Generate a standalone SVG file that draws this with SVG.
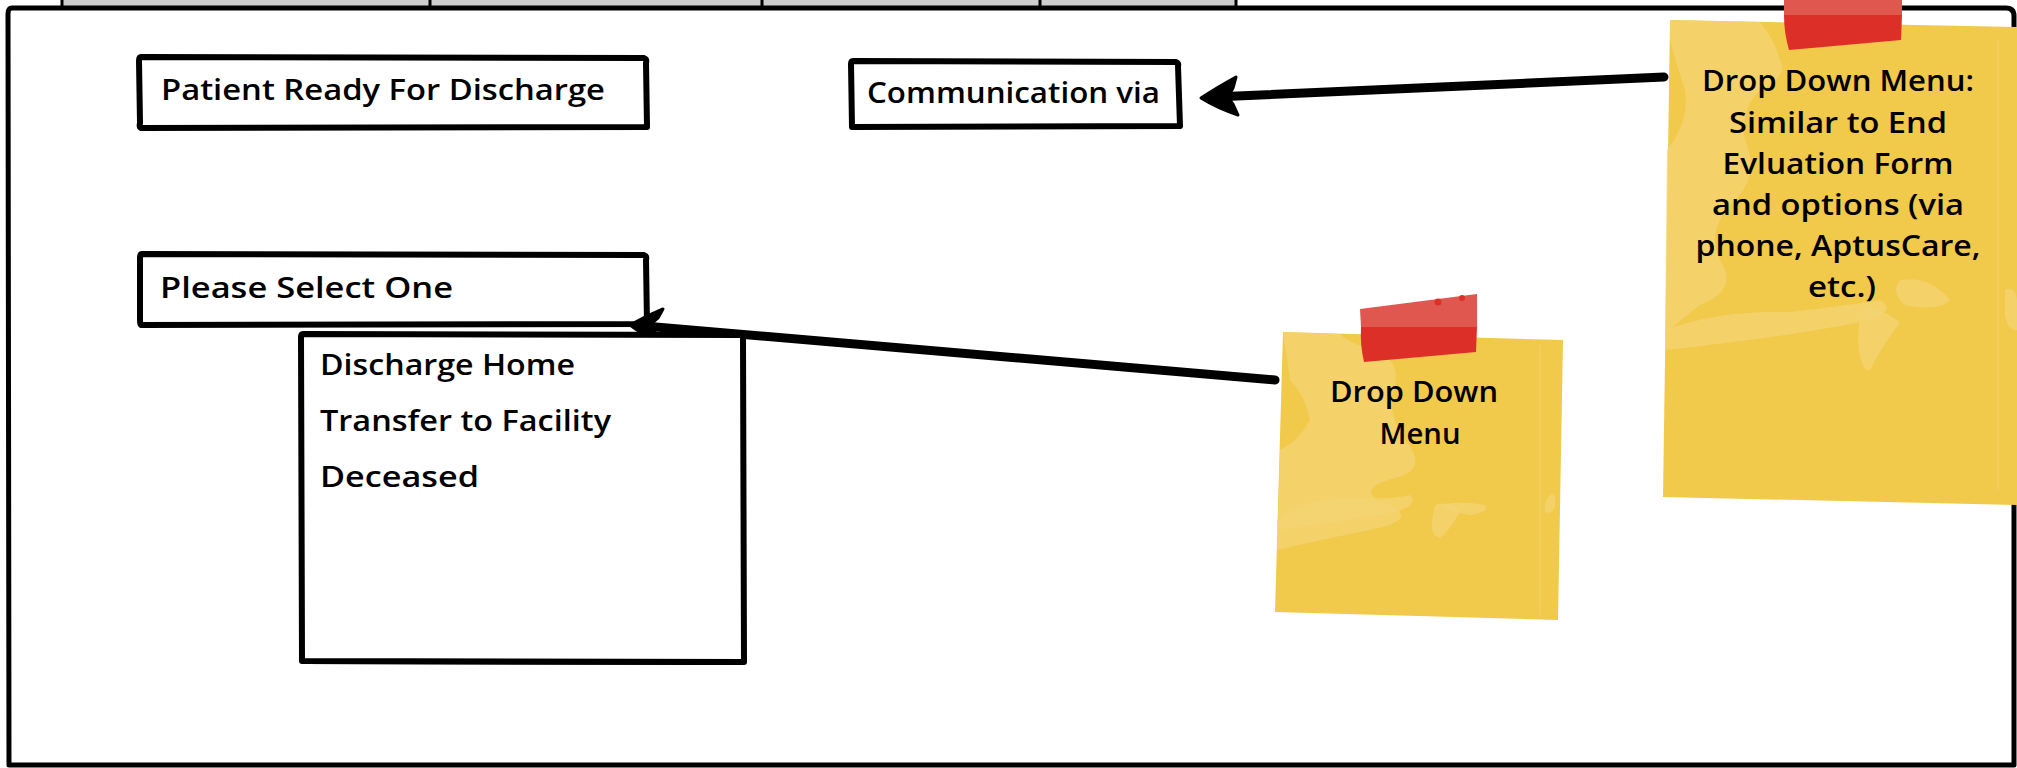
<svg xmlns="http://www.w3.org/2000/svg" width="2017" height="768" viewBox="0 0 2017 768">
  <defs>
    <style>
      .box { fill: #ffffff; stroke: #000000; stroke-width: 6; stroke-linejoin: round; stroke-linecap: round; }
      .frame { fill: #ffffff; stroke: #000000; stroke-width: 5; stroke-linejoin: round; }
      .tab { fill: #cdcdcd; stroke: #000000; stroke-width: 3; }
      .lbl { font-family: "Open Sans", "Noto Sans", "Liberation Sans", sans-serif; font-size: 29px; font-weight: 600; fill: #000000; }
      .note-lbl { font-family: "Open Sans", "Noto Sans", "Liberation Sans", sans-serif; font-size: 29px; font-weight: 600; fill: #000000; text-anchor: middle; }
      .paper { fill: #F1C94B; }
      .paper-light { fill: #F4D473; opacity: 0.75; }
      .tape-top { fill: #E0574F; }
      .tape-bottom { fill: #DC2F27; }
      .wire { fill: none; stroke: #000000; stroke-linecap: round; stroke-linejoin: round; }
      .head { fill: #000000; stroke: #000000; stroke-width: 3; stroke-linejoin: round; }
    </style>
  </defs>

  <rect width="2017" height="768" fill="#ffffff"/>

  <!-- window tabs peeking above the frame -->
  <g id="tabs">
    <rect class="tab" x="62" y="-4" width="1174" height="12"/>
    <line x1="430" y1="-2" x2="430" y2="8" stroke="#000" stroke-width="3"/>
    <line x1="762" y1="-2" x2="762" y2="8" stroke="#000" stroke-width="3"/>
    <line x1="1040" y1="-2" x2="1040" y2="8" stroke="#000" stroke-width="3"/>
  </g>

  <!-- outer window frame -->
  <g id="frame">
    <path class="frame" d="M12,8 L2006,8 Q2014,8 2014,16 L2014,765 L9,765 L8,14 Q8,8 12,8 Z"/>
  </g>

  <g id="patient-ready">
    <path class="box" d="M141,57 L644,58 Q647,59 646,63 L647,127 L141,128 Q139,127 140,123 L139,61 Q139,57 141,57 Z"/>
    <text class="lbl" x="161" y="100" textLength="444" lengthAdjust="spacingAndGlyphs">Patient Ready For Discharge</text>
  </g>

  <g id="communication-via">
    <path class="box" d="M853,61 L1176,62 Q1179,63 1178,66 L1180,126 L852,127 L851,64 Q851,61 853,61 Z"/>
    <text class="lbl" x="867" y="103" textLength="293" lengthAdjust="spacingAndGlyphs">Communication via</text>
  </g>

  <g id="please-select">
    <path class="box" d="M142,254 L644,255 Q647,256 646,260 L647,324 L141,325 Q140,324 140,320 L140,258 Q140,254 142,254 Z"/>
    <text class="lbl" x="160" y="298" textLength="293" lengthAdjust="spacingAndGlyphs">Please Select One</text>
  </g>

  <!-- connectors -->
  <g id="connectors">
    <path class="wire" stroke-width="9" d="M1664,77 L1214,97"/>
    <path class="head" d="M1236,77 Q1216,88 1201,98 Q1217,108 1238,115 L1233,104 L1228,97 L1233,88 Z"/>
    <path class="wire" stroke-width="9" d="M1275,380 L644,326"/>
    <path class="head" d="M663,309 Q646,316 630,325 Q645,336 660,346 L656,333 L648,327 L658,318 Z"/>
  </g>

  <g id="option-list">
    <path class="box" d="M303,334 L741,335 Q744,336 743,339 L744,662 L302,661 L301,337 Q301,334 303,334 Z"/>
    <path d="M302,659 L744,660 L744,665 L302,664 Z" fill="#000"/>
    <text class="lbl" x="320" y="375" textLength="255" lengthAdjust="spacingAndGlyphs">Discharge Home</text>
    <text class="lbl" x="320" y="431" textLength="291" lengthAdjust="spacingAndGlyphs">Transfer to Facility</text>
    <text class="lbl" x="320" y="487" textLength="159" lengthAdjust="spacingAndGlyphs">Deceased</text>
  </g>

  <g id="note-drop-down">
    <path class="paper" d="M1283,332 L1563,340 L1558,620 L1275,612 Z"/>
    <path class="paper-light" d="M1283,332 L1340,334 Q1350,345 1380,350 Q1400,365 1395,385 Q1385,410 1405,440 Q1430,470 1395,478 Q1350,490 1390,505 Q1420,520 1370,530 Q1320,540 1277,550 L1280,450 Q1300,440 1310,420 Q1305,395 1290,380 Z"/>
    <path class="paper-light" d="M1277,520 Q1300,500 1340,498 Q1390,500 1410,495 Q1420,505 1395,512 Q1340,522 1277,530 Z"/>
    <path class="paper-light" d="M1440,505 Q1460,500 1485,505 Q1490,512 1470,515 Q1450,512 1440,505 Z"/>
    <path class="paper-light" d="M1435,505 Q1450,500 1460,512 Q1450,530 1440,538 Q1430,535 1432,520 Z"/>
    <path class="paper-light" d="M1550,495 Q1556,490 1555,505 Q1553,515 1545,512 Q1543,503 1550,495 Z"/>
    <line x1="1540" y1="345" x2="1540" y2="615" stroke="#F4D473" stroke-width="1.5" opacity="0.6"/>
    <path class="tape-top" d="M1360,309 L1477,294 L1477,327 L1361,327 Z"/>
    <path class="tape-bottom" d="M1361,327 L1477,327 L1476,352 L1364,362 Q1360,345 1361,327 Z"/>
    <circle cx="1438" cy="302" r="3.5" fill="#DC2F27"/>
    <circle cx="1462" cy="298" r="3" fill="#DC2F27"/>
    <text class="note-lbl" x="1414" y="402" textLength="168" lengthAdjust="spacingAndGlyphs">Drop Down</text>
    <text class="note-lbl" x="1420" y="444" textLength="81" lengthAdjust="spacingAndGlyphs">Menu</text>
  </g>

  <g id="note-communication">
    <path class="paper" d="M1670,20 L2017,27 L2017,505 L1663,497 Z"/>
    <path class="paper-light" d="M1670,20 L1760,22 Q1775,40 1780,60 Q1790,75 1760,90 Q1740,110 1745,140 Q1760,175 1735,200 Q1705,230 1720,260 Q1740,290 1700,305 Q1680,320 1665,335 L1667,150 Q1690,120 1685,90 Q1675,60 1670,40 Z"/>
    <path class="paper-light" d="M1665,330 Q1720,310 1790,312 Q1850,305 1880,300 Q1900,312 1860,322 Q1800,335 1665,350 Z"/>
    <path class="paper-light" d="M1900,280 Q1930,275 1950,300 Q1940,312 1905,305 Q1890,292 1900,280 Z"/>
    <path class="paper-light" d="M1860,305 Q1885,310 1900,322 Q1880,350 1870,370 Q1860,372 1858,340 Z"/>
    <path class="paper-light" d="M2005,290 Q2015,285 2017,300 L2017,330 Q2008,332 2005,315 Z"/>
    <line x1="1998" y1="40" x2="1998" y2="490" stroke="#F4D473" stroke-width="1.5" opacity="0.6"/>
    <path class="tape-top" d="M1784,0 L1902,0 L1902,15 L1784,15 Z"/>
    <path class="tape-bottom" d="M1784,15 L1902,15 L1901,40 L1789,50 Q1784,33 1784,15 Z"/>
    <text class="note-lbl" x="1838" y="91" textLength="272" lengthAdjust="spacingAndGlyphs">Drop Down Menu:</text>
    <text class="note-lbl" x="1838" y="133" textLength="218" lengthAdjust="spacingAndGlyphs">Similar to End</text>
    <text class="note-lbl" x="1838" y="174" textLength="231" lengthAdjust="spacingAndGlyphs">Evluation Form</text>
    <text class="note-lbl" x="1838" y="215" textLength="252" lengthAdjust="spacingAndGlyphs">and options (via</text>
    <text class="note-lbl" x="1838" y="256" textLength="285" lengthAdjust="spacingAndGlyphs">phone, AptusCare,</text>
    <text class="note-lbl" x="1842" y="297" textLength="68" lengthAdjust="spacingAndGlyphs">etc.)</text>
  </g>
</svg>
